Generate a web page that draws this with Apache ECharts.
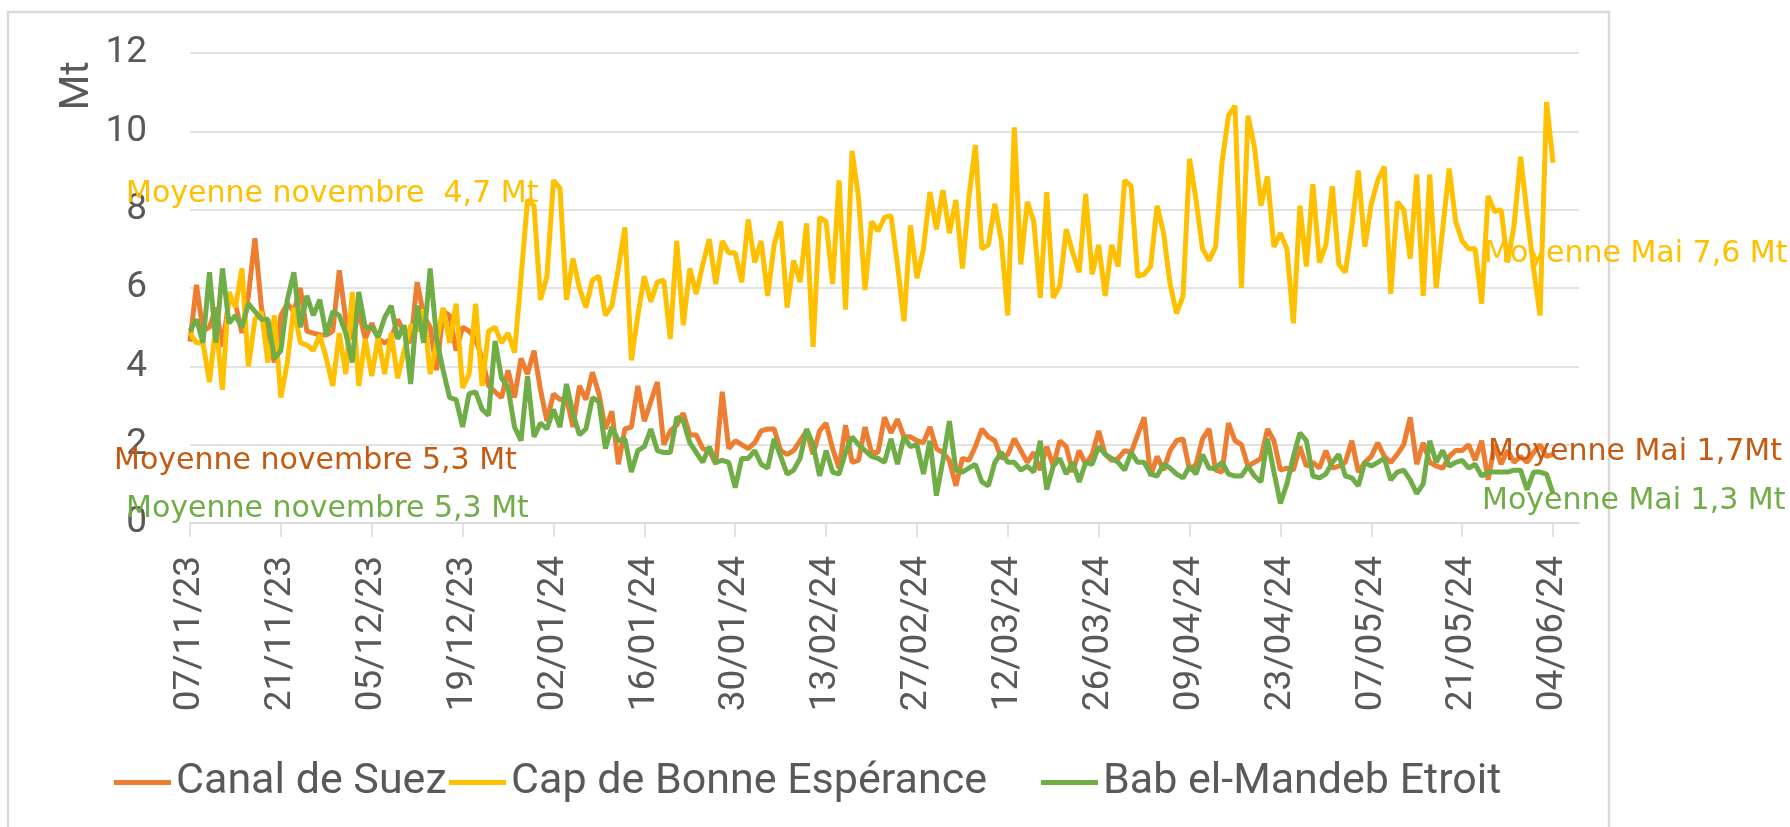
<!DOCTYPE html>
<html lang="fr">
<head>
<meta charset="UTF-8">
<title>Transits quotidiens</title>
<script src="https://cdn.jsdelivr.net/npm/echarts@6/dist/echarts.min.js"></script>
<style>
  html, body { margin: 0; padding: 0; background: #fff; }
  #chart { width: 1790px; height: 827px; }
</style>
</head>
<body>
<div id="chart"></div>
<script>
// axe des dates : un point par jour à partir du 07/11/23
const startDate = Date.UTC(2023, 10, 7);
const dayCount = 215;          // l'axe va jusqu'au 08/06/24
const tickEvery = 14;          // une étiquette toutes les 2 semaines
const yTicks = [0, 2, 4, 6, 8, 10, 12];

// valeurs journalières en Mt
const suez = [
  4.63, 6.08, 4.9, 5.0, 5.5, 4.5, 5.7, 5.6, 4.85, 5.8, 7.27, 5.5, 4.7, 4.1, 5.3, 5.6, 5.4, 6.0, 4.9, 4.85, 4.8, 4.8, 4.9, 6.45, 5.2, 4.7,
  5.4, 4.7, 5.1, 4.7, 4.6, 4.7, 5.2, 4.85, 4.6, 6.15, 5.3, 5.0, 3.9, 5.4, 5.3, 4.4, 5.0, 4.9, 4.7, 4.2, 3.5, 3.35, 3.2, 3.9, 3.2, 4.2,
  3.8, 4.4, 3.4, 2.6, 3.3, 3.15, 3.2, 2.45, 3.5, 3.15, 3.85, 3.3, 2.4, 2.85, 1.5, 2.4, 2.45, 3.5, 2.6, 3.1, 3.6, 2.0, 2.35, 2.5, 2.8, 2.25, 2.25,
  1.9, 1.85, 1.5, 3.35, 1.9, 2.1, 2.0, 1.9, 2.05, 2.35, 2.4, 2.4, 1.85, 1.75, 1.85, 2.1, 2.35, 1.75, 2.35, 2.55, 1.9, 1.4, 2.5, 1.55, 1.6, 2.45,
  1.8, 1.8, 2.7, 2.3, 2.65, 2.2, 2.2, 2.1, 2.05, 2.45, 1.9, 1.8, 1.6, 0.95, 1.65, 1.6, 1.95, 2.4, 2.2, 2.1, 1.65, 1.75, 2.15, 1.85, 1.55, 1.8,
  1.35, 1.95, 1.45, 2.1, 1.95, 1.3, 1.85, 1.5, 1.75, 2.35, 1.75, 1.6, 1.65, 1.85, 1.8, 2.25, 2.7, 1.2, 1.7, 1.35, 1.85, 2.1, 2.15, 1.35, 1.5, 2.15,
  2.4, 1.35, 1.3, 2.55, 2.1, 2.0, 1.45, 1.55, 1.65, 2.4, 2.1, 1.35, 1.4, 1.35, 1.95, 1.45, 1.55, 1.4, 1.85, 1.4, 1.45, 1.55, 2.1, 1.3, 1.55, 1.7,
  2.05, 1.7, 1.55, 1.75, 2.0, 2.7, 1.5, 2.05, 1.55, 1.45, 1.4, 1.7, 1.85, 1.85, 2.0, 1.6, 2.1, 1.1, 2.0, 1.5, 1.85, 1.55, 1.7, 1.55, 1.8, 2.0, 1.7, 1.75
];
const cap = [
  4.85, 4.6, 4.6, 3.6, 5.1, 3.4, 5.9, 5.5, 6.5, 4.0, 5.2, 5.4, 4.1, 5.3, 3.2, 4.1, 5.5, 4.6, 4.55, 4.4, 4.8, 4.2, 3.5, 4.85, 3.8, 5.9,
  3.5, 4.7, 3.75, 4.75, 3.8, 4.85, 3.7, 4.4, 5.05, 4.9, 5.45, 3.8, 4.6, 5.5, 4.6, 5.6, 3.45, 3.8, 5.6, 3.5, 4.9, 5.0, 4.6, 4.85, 4.35, 6.25,
  8.25, 8.1, 5.7, 6.3, 8.75, 8.55, 5.7, 6.75, 6.0, 5.5, 6.2, 6.3, 5.3, 5.55, 6.5, 7.55, 4.15, 5.3, 6.3, 5.65, 6.15, 6.2, 4.7, 7.2, 5.05, 6.5, 5.85,
  6.6, 7.25, 6.1, 7.2, 6.9, 6.9, 6.15, 7.75, 6.65, 7.2, 5.8, 7.1, 7.7, 5.5, 6.7, 6.15, 7.65, 4.5, 7.8, 7.7, 6.1, 8.75, 5.45, 9.5, 8.3, 5.95,
  7.7, 7.45, 7.8, 7.85, 6.6, 5.15, 7.6, 6.25, 7.0, 8.45, 7.5, 8.5, 7.4, 8.25, 6.5, 8.3, 9.65, 7.0, 7.1, 8.15, 7.2, 5.3, 10.1, 6.6, 8.2, 7.7,
  5.75, 8.45, 5.75, 6.05, 7.5, 6.9, 6.4, 8.4, 6.35, 7.1, 5.8, 7.1, 6.55, 8.75, 8.6, 6.3, 6.35, 6.55, 8.1, 7.4, 6.1, 5.35, 5.8, 9.3, 8.25, 7.0,
  6.7, 7.05, 9.2, 10.4, 10.65, 6.0, 10.4, 9.6, 8.1, 8.85, 7.05, 7.4, 7.0, 5.1, 8.1, 6.55, 8.65, 6.65, 7.1, 8.6, 6.6, 6.4, 7.55, 9.0, 7.05, 8.15,
  8.75, 9.1, 5.85, 8.2, 8.0, 6.75, 8.9, 5.8, 8.9, 6.0, 7.5, 9.05, 7.7, 7.2, 7.0, 7.0, 5.6, 8.35, 7.95, 8.0, 6.65, 7.6, 9.35, 7.9, 6.5, 5.3, 10.75, 9.2
];
const bab = [
  4.9, 5.2, 4.6, 6.4, 4.6, 6.5, 5.1, 5.3, 5.0, 5.6, 5.4, 5.2, 5.2, 4.2, 4.4, 5.7, 6.4, 5.0, 5.8, 5.3, 5.7, 4.8, 5.4, 5.3, 4.85, 4.1,
  5.9, 5.0, 5.0, 4.75, 5.25, 5.55, 4.7, 5.05, 3.55, 5.55, 4.6, 6.5, 4.7, 3.9, 3.2, 3.15, 2.45, 3.3, 3.35, 2.9, 2.75, 4.65, 3.7, 3.45, 2.45, 2.1,
  3.75, 2.2, 2.55, 2.4, 2.9, 2.45, 3.55, 2.8, 2.25, 2.4, 3.2, 3.1, 1.9, 2.45, 2.1, 2.15, 1.3, 1.85, 1.95, 2.4, 1.85, 1.8, 1.8, 2.7, 2.6, 2.05, 1.8,
  1.55, 1.95, 1.55, 1.6, 1.55, 0.9, 1.65, 1.65, 1.85, 1.5, 1.4, 2.15, 1.7, 1.25, 1.35, 1.65, 2.4, 2.0, 1.2, 1.85, 1.3, 1.25, 1.8, 2.2, 2.0, 1.85,
  1.7, 1.65, 1.55, 2.15, 1.5, 2.2, 1.95, 2.0, 1.25, 2.1, 0.7, 1.6, 2.6, 1.35, 1.3, 1.4, 1.5, 1.05, 0.95, 1.55, 1.8, 1.55, 1.55, 1.35, 1.45, 1.3,
  2.1, 0.85, 1.45, 1.65, 1.25, 1.55, 1.05, 1.55, 1.5, 1.95, 1.75, 1.65, 1.55, 1.35, 1.8, 1.55, 1.55, 1.25, 1.2, 1.5, 1.4, 1.25, 1.15, 1.45, 1.25, 1.75,
  1.4, 1.4, 1.55, 1.25, 1.2, 1.2, 1.45, 1.2, 1.05, 2.15, 1.3, 0.5, 1.0, 1.7, 2.3, 2.1, 1.2, 1.15, 1.25, 1.55, 1.75, 1.2, 1.15, 0.95, 1.55, 1.45,
  1.55, 1.65, 1.1, 1.3, 1.35, 1.1, 0.75, 1.0, 2.1, 1.55, 1.85, 1.45, 1.55, 1.6, 1.4, 1.5, 1.2, 1.3, 1.3, 1.3, 1.3, 1.35, 1.35, 0.85, 1.3, 1.3, 1.25, 0.75
];

const seriesNames = ['Canal de Suez', 'Cap de Bonne Espérance', 'Bab el-Mandeb Etroit'];
const colors = ['#ED7D31', '#FFC000', '#70AD47'];

// libellés jj/mm/aa
function pad(n) { return n < 10 ? '0' + n : '' + n; }
const dates = [];
for (let i = 0; i < dayCount; i++) {
  const d = new Date(startDate + i * 86400000);
  dates.push(pad(d.getUTCDate()) + '/' + pad(d.getUTCMonth() + 1) + '/' + pad(d.getUTCFullYear() % 100));
}

const FONT = 'Roboto, "Noto Sans", sans-serif';
const NOTE_FONT = '"DejaVu Sans", sans-serif';
const grey = '#595959';
const gridGrey = '#D9D9D9';

function note(text, color, x, y) {
  return {
    type: 'text', x: x, y: y, z: 100,
    style: { text: text, fill: color, fontSize: 30, fontFamily: NOTE_FONT, align: 'left', verticalAlign: 'middle' }
  };
}

function legendAt(name, left) {
  return {
    data: [name], left: left, top: 761, padding: 0,
    icon: 'rect', itemWidth: 57, itemHeight: 5,
    textStyle: { fontFamily: FONT, fontSize: 43, color: grey }
  };
}

const chart = echarts.init(document.getElementById('chart'));
chart.setOption({
  animation: false,
  backgroundColor: '#fff',
  color: colors,
  grid: { left: 190, right: 211, top: 53, bottom: 304 },
  legend: [legendAt(seriesNames[0], 114), legendAt(seriesNames[1], 449), legendAt(seriesNames[2], 1041)],
  xAxis: {
    type: 'category',
    boundaryGap: false,
    data: dates,
    axisLine: { lineStyle: { color: gridGrey, width: 1.5 } },
    axisTick: { show: true, interval: tickEvery - 1, length: 14, lineStyle: { color: gridGrey, width: 1.5 } },
    axisLabel: { interval: tickEvery - 1, rotate: 90, margin: 33, color: grey, fontSize: 37, fontFamily: FONT },
    splitLine: { show: false }
  },
  yAxis: {
    type: 'value',
    min: yTicks[0], max: yTicks[yTicks.length - 1], interval: yTicks[1] - yTicks[0],
    axisLine: { show: false },
    axisTick: { show: false },
    axisLabel: { margin: 43, color: grey, fontSize: 37, fontFamily: FONT },
    splitLine: { lineStyle: { color: gridGrey, width: 1.5 } }
  },
  series: [
    { name: seriesNames[0], type: 'line', data: suez, symbol: 'none', lineStyle: { width: 5 } },
    { name: seriesNames[1], type: 'line', data: cap, symbol: 'none', lineStyle: { width: 5 } },
    { name: seriesNames[2], type: 'line', data: bab, symbol: 'none', lineStyle: { width: 5 } }
  ],
  graphic: [
    { type: 'rect', z: -10, shape: { x: 8, y: 12, width: 1601, height: 860 },
      style: { fill: 'none', stroke: gridGrey, lineWidth: 2.5 } },
    { type: 'text', x: 78, y: 86, rotation: Math.PI / 2, z: 100,
      style: { text: 'Mt', fill: grey, fontSize: 41, fontFamily: FONT, align: 'center', verticalAlign: 'middle' } },
    note('Moyenne novembre  4,7 Mt', '#FFC000', 126, 194),
    note('Moyenne novembre 5,3 Mt', '#C55A11', 114, 461),
    note('Moyenne novembre 5,3 Mt', '#70AD47', 126, 509),
    note('Moyenne Mai 7,6 Mt', '#FFC000', 1484, 254),
    note('Moyenne Mai 1,7Mt', '#C55A11', 1488, 452),
    note('Moyenne Mai 1,3 Mt', '#70AD47', 1482, 501)
  ]
});
</script>
</body>
</html>
